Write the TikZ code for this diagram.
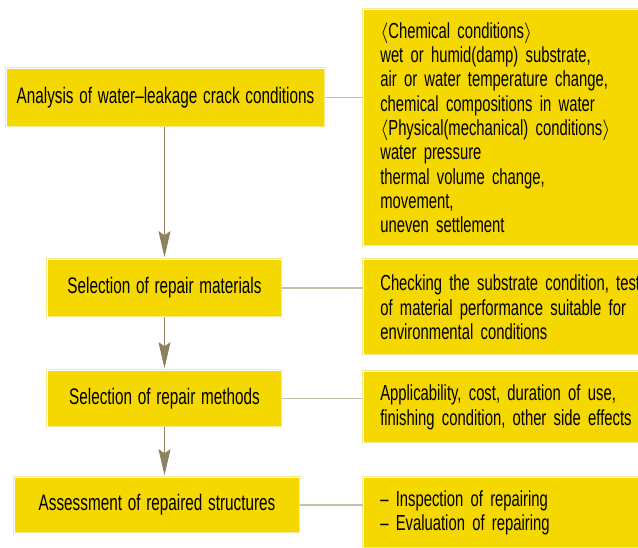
\documentclass[tikz,border=0pt]{standalone}
\usepackage{fontspec}
\setmainfont{Liberation Sans}[FakeStretch=0.68,WordSpace=1.35]
\usepackage{xcolor}
\usetikzlibrary{arrows.meta}
\definecolor{boxfill}{HTML}{F5D800}
\definecolor{boxedge}{HTML}{F7EA8C}
\definecolor{linkcol}{HTML}{C8C0A6}
\definecolor{flowcol}{HTML}{8E8162}

\begin{document}
\begin{tikzpicture}[x=1pt,y=-1pt,
  stage/.style={fill=boxfill, draw=boxedge, double=white, double distance=0.6pt,
    line width=0.6pt, inner sep=0pt, font=\fontsize{22.5}{24.3}\selectfont},
  note/.style={stage, anchor=north west, text width=290pt, align=left,
    inner xsep=17pt, font=\fontsize{21.8}{24.3}\selectfont},
  flow/.style={draw=flowcol, line width=1pt, shorten >=1.5pt,
    -{Stealth[length=26pt,width=12pt,inset=4pt]}},
  link/.style={draw=linkcol, line width=1.2pt}]
  \useasboundingbox (0,0) rectangle (638,548);
  \clip (0,0) rectangle (638,548);

  \node[stage, minimum width=319pt, minimum height=59pt] (anal) at (165.5,97.5)
    {Analysis of water--leakage crack conditions};
  \node[stage, minimum width=235pt, minimum height=58pt] (mat) at (164.5,288)
    {Selection of repair materials};
  \node[stage, minimum width=235pt, minimum height=57pt] (meth) at (164.5,398.5)
    {Selection of repair methods};
  \node[stage, minimum width=286pt, minimum height=56pt] (asse) at (157,505)
    {Assessment of repaired structures};

  \node[note, minimum height=237pt] (cond) at (363,9)
    {$\langle$Chemical conditions$\rangle$\\
     wet or humid(damp) substrate,\\
     air or water temperature change,\\
     chemical compositions in water\\
     $\langle$Physical(mechanical) conditions$\rangle$\\
     water pressure\\
     thermal volume change,\\
     movement,\\
     uneven settlement};
  \node[note, minimum height=96pt] (check) at (363,259)
    {Checking the substrate condition, test\\
     of material performance suitable for\\
     environmental conditions};
  \node[note, minimum height=72pt] (appl) at (363,371)
    {Applicability, cost, duration of use,\\
     finishing condition, other side effects};
  \node[note, minimum height=71pt] (insp) at (363,477)
    {-- Inspection of repairing\\
     -- Evaluation of repairing};

  \draw[flow] (anal.south -| mat.north) -- (mat.north);
  \draw[flow] (mat) -- (meth);
  \draw[flow] (meth.south) -- (meth.south |- asse.north);

  \draw[link] (anal.east) -- (anal.east -| cond.west);
  \draw[link] (mat.east) -- (mat.east -| check.west);
  \draw[link] (meth.east) -- (meth.east -| appl.west);
  \draw[link] (asse.east) -- (asse.east -| insp.west);
\end{tikzpicture}
\end{document}
